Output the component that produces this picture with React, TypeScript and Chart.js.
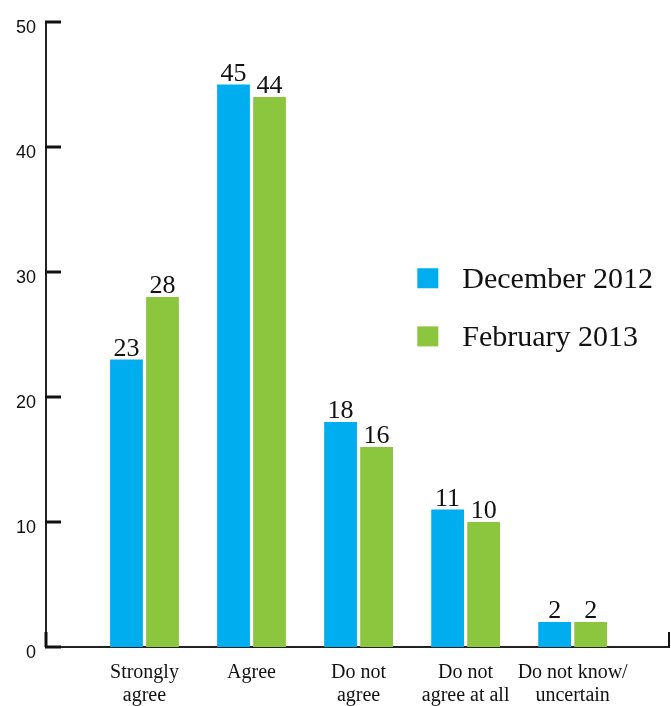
import React, { useEffect, useRef } from 'react';
import { Chart, registerables } from 'chart.js';

Chart.register(...registerables);

const categories: string[][] = [
  ['Strongly', 'agree'],
  ['Agree'],
  ['Do not', 'agree'],
  ['Do not', 'agree at all'],
  ['Do not know/', 'uncertain'],
];
const seriesNames = ['December 2012', 'February 2013'];
const december2012 = [23, 45, 18, 11, 2];
const february2013 = [28, 44, 16, 10, 2];
const yTicks = [0, 10, 20, 30, 40, 50];
const seriesColors = ['#00ADEF', '#8CC63F'];

const SERIF = '"Liberation Serif", "Times New Roman", serif';
const SANS = '"Liberation Sans", Arial, sans-serif';

const tickMarksPlugin = {
  id: 'tickMarks',
  afterDraw(chart: any) {
    const { ctx, chartArea, scales } = chart;
    const y = scales.y;
    ctx.save();
    ctx.strokeStyle = '#111';
    ctx.lineWidth = 3;
    ctx.lineCap = 'butt';
    yTicks.forEach((v) => {
      const py = y.getPixelForValue(v);
      ctx.beginPath();
      ctx.moveTo(chartArea.left - 1, py);
      ctx.lineTo(chartArea.left + 15, py);
      ctx.stroke();
    });
    // thick segment at the origin
    ctx.beginPath();
    ctx.moveTo(chartArea.left, chartArea.bottom);
    ctx.lineTo(chartArea.left, chartArea.bottom - 15);
    ctx.stroke();
    // right-end tick of x axis
    ctx.lineWidth = 2;
    ctx.beginPath();
    ctx.moveTo(chartArea.right, chartArea.bottom);
    ctx.lineTo(chartArea.right, chartArea.bottom - 15);
    ctx.stroke();
    ctx.restore();
  },
};

const dataLabelsPlugin = {
  id: 'dataLabels',
  afterDatasetsDraw(chart: any) {
    const { ctx } = chart;
    ctx.save();
    ctx.font = `26px ${SERIF}`;
    ctx.fillStyle = '#111';
    ctx.textAlign = 'center';
    ctx.textBaseline = 'alphabetic';
    chart.data.datasets.forEach((ds: any, di: number) => {
      const meta = chart.getDatasetMeta(di);
      meta.data.forEach((bar: any, i: number) => {
        const v = ds.data[i].y;
        ctx.fillText(String(v), bar.x, bar.y - 4);
      });
    });
    ctx.restore();
  },
};

const legendPlugin = {
  id: 'customLegend',
  afterDraw(chart: any) {
    const { ctx, chartArea } = chart;
    const w = chartArea.right - chartArea.left;
    const h = chartArea.bottom - chartArea.top;
    const boxX = chartArea.left + w * 0.596;
    const rows = [chartArea.top + h * 0.41, chartArea.top + h * 0.503];
    ctx.save();
    ctx.font = `30px ${SERIF}`;
    ctx.textBaseline = 'middle';
    ctx.textAlign = 'left';
    chart.data.datasets.forEach((ds: any, i: number) => {
      const cy = rows[i];
      ctx.fillStyle = ds.backgroundColor;
      ctx.fillRect(boxX, cy - 10, 21, 20);
      ctx.fillStyle = '#111';
      ctx.fillText(ds.label, boxX + 45, cy + 2);
    });
    ctx.restore();
  },
};

export default function App() {
  const canvasRef = useRef<HTMLCanvasElement | null>(null);

  useEffect(() => {
    if (!canvasRef.current) return;
    const chart = new Chart(canvasRef.current, {
      type: 'bar',
      data: {
        datasets: [
          {
            label: seriesNames[0],
            data: december2012.map((v, i) => ({ x: i, y: v })),
            backgroundColor: seriesColors[0],
            categoryPercentage: 0.673,
            barPercentage: 0.91,
          },
          {
            label: seriesNames[1],
            data: february2013.map((v, i) => ({ x: i, y: v })),
            backgroundColor: seriesColors[1],
            categoryPercentage: 0.673,
            barPercentage: 0.91,
          },
        ],
      },
      options: {
        animation: false,
        responsive: false,
        layout: { padding: { top: 22, right: 2, left: 0, bottom: 0 } },
        plugins: {
          legend: { display: false },
          tooltip: { enabled: false },
        },
        scales: {
          x: {
            type: 'linear',
            offset: false,
            min: -0.92,
            max: 4.9,
            grid: { display: false, drawTicks: false, offset: false },
            border: { display: true, color: '#222', width: 2 },
            afterFit: (scale: any) => {
              scale.height = 59;
            },
            ticks: {
              stepSize: 1,
              includeBounds: false,
              autoSkip: false,
              maxRotation: 0,
              minRotation: 0,
              padding: 14,
              color: '#111',
              font: { family: SERIF, size: 20, lineHeight: 1.15 },
              callback: (value: any) => {
                const idx = Number(value);
                return Number.isInteger(idx) && categories[idx] ? categories[idx] : '';
              },
            },
          },
          y: {
            min: 0,
            max: 50,
            grid: { display: false, drawTicks: false },
            border: { display: true, color: '#222', width: 2 },
            afterFit: (scale: any) => {
              scale.width = 46;
            },
            ticks: {
              stepSize: 10,
              padding: 10,
              labelOffset: 6,
              color: '#111',
              font: { family: SANS, size: 18 },
            },
          },
        },
      },
      plugins: [tickMarksPlugin, dataLabelsPlugin, legendPlugin],
    } as any);
    return () => chart.destroy();
  }, []);

  return (
    <div style={{ position: 'absolute', left: 0, top: 0, width: 671, height: 706, background: '#fff' }}>
      <canvas ref={canvasRef} width={671} height={706} style={{ display: 'block' }} />
    </div>
  );
}
